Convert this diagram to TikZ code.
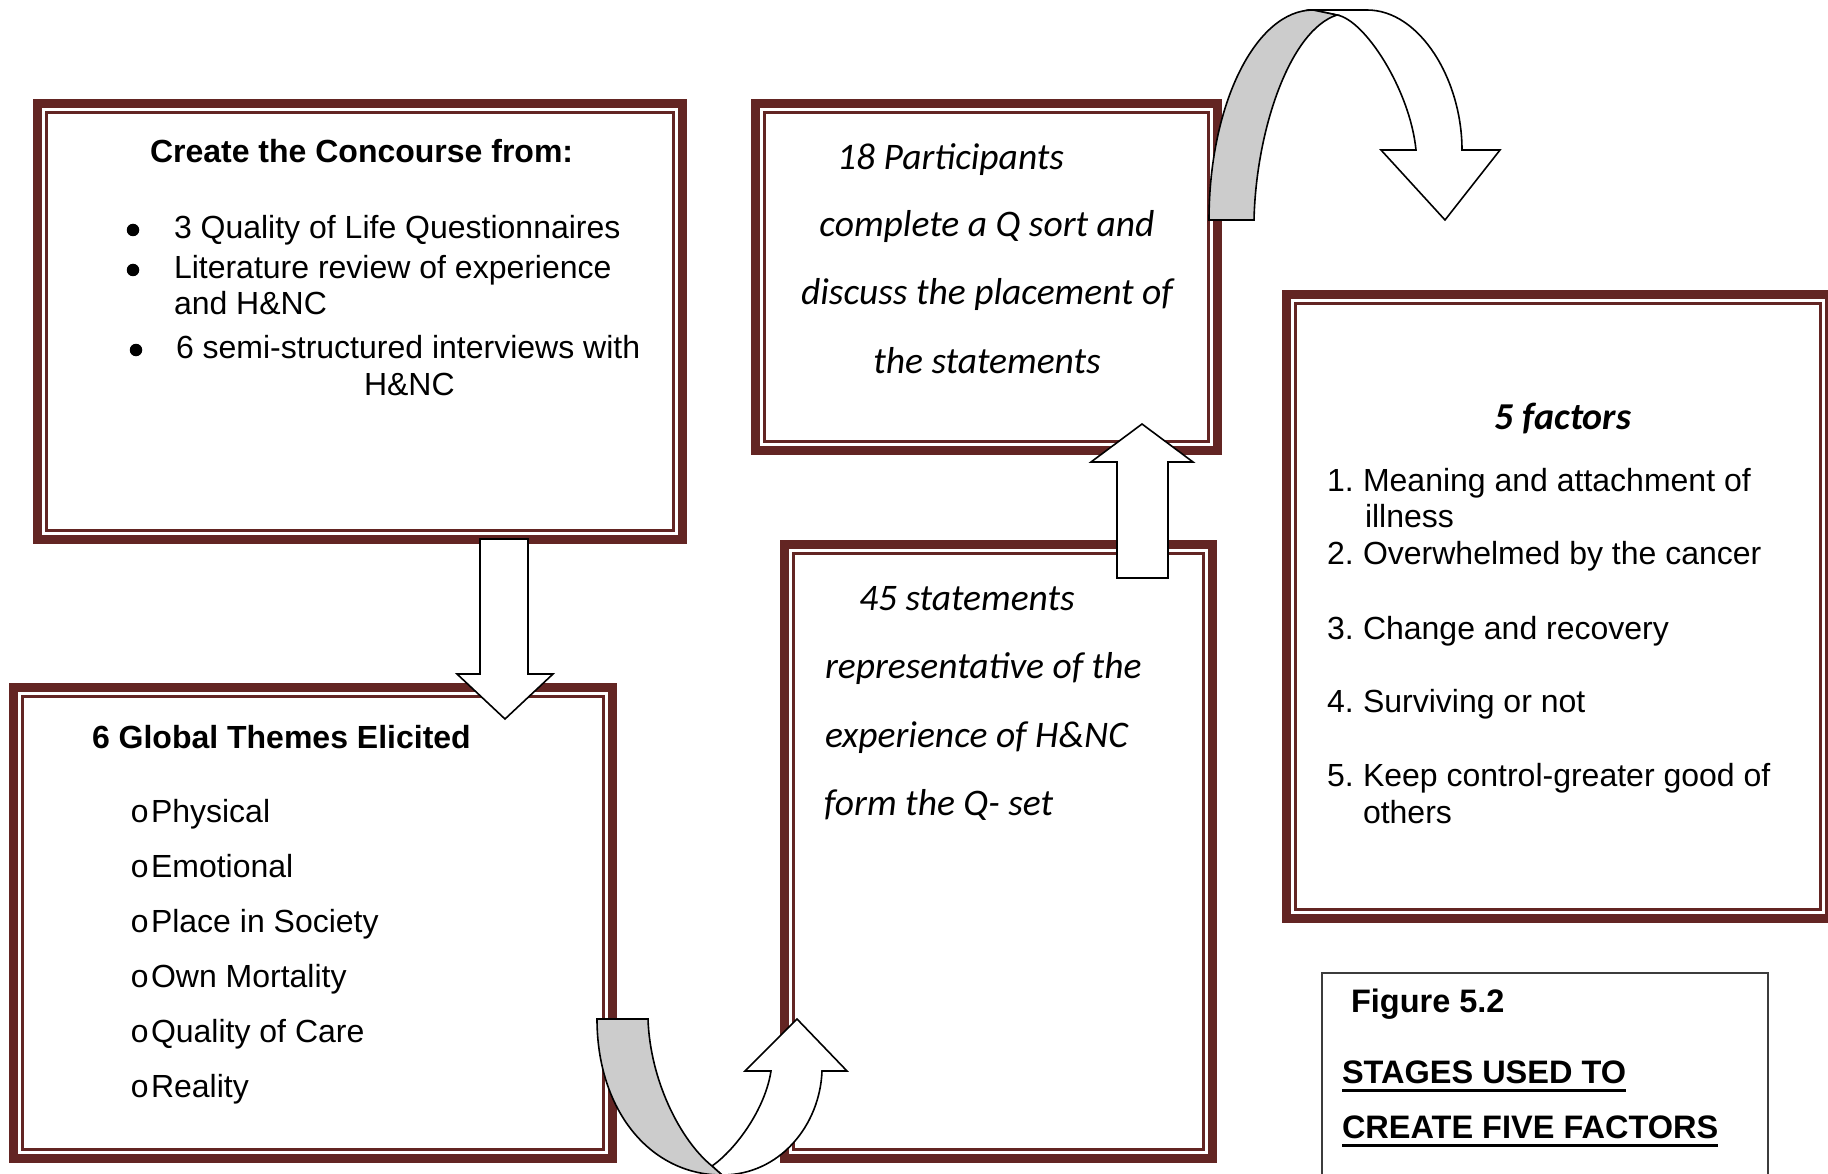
\documentclass[tikz,border=0pt]{standalone}
\usepackage{fontspec}
\setmainfont{Liberation Sans}
\newfontfamily\calfont{Carlito}
\newfontfamily\monofnt{Liberation Mono}
\definecolor{maroon}{RGB}{99,37,35}
\definecolor{bandgray}{RGB}{204,204,204}
\definecolor{figline}{RGB}{60,60,60}
\newcommand\qbox[5]{% name, outer x, outer y, node min width, node min height
  \node[qbox, minimum width=#4pt, minimum height=#5pt] (#1) at (#2+4.5,#3+4.5) {};
  \draw[maroon, line width=2.5pt] ([shift={(9,9)}]#1.north west) rectangle ([shift={(-9,-9)}]#1.south east);
}
\begin{document}
\begin{tikzpicture}[x=1pt,y=-1pt,
  qbox/.style={draw=maroon, fill=white, line width=9pt, inner sep=0pt, outer sep=0pt, anchor=north west},
  ar/.style={inner sep=0pt, outer sep=0pt, anchor=base west, font=\fontsize{32}{38}\selectfont},
  arb/.style={ar, font=\fontsize{32}{38}\selectfont\bfseries},
  bul/.style={circle, fill=black, inner sep=0pt, minimum size=12.5pt},
  circ/.style={inner sep=0pt, outer sep=0pt, anchor=base west, font=\fontsize{32}{38}\selectfont\monofnt},
  cal/.style={inner sep=0pt, outer sep=0pt, anchor=base west, font=\fontsize{37.5}{45}\selectfont\calfont\itshape},
  calc/.style={cal, anchor=base},
  figt/.style={inner sep=0pt, outer sep=0pt, anchor=base west, font=\fontsize{32.5}{38}\selectfont\bfseries},
  blockarrow/.style={draw=black, fill=white, line width=1.6pt, line join=miter},
  backband/.style={draw=black, fill=bandgray, line width=1.6pt, line join=miter},
]
\useasboundingbox (0,0) rectangle (1828,1174);
\clip (0,0) rectangle (1828,1174);

% ---- boxes ----
\qbox{concourse}{33}{99}{645}{436}
\qbox{participants}{751}{99}{462}{347}
\qbox{themes}{9}{683}{599}{471}
\qbox{statements}{780}{540}{428}{614}
\qbox{factors}{1282}{290}{543}{624}

% ---- box 1 text ----
\node[arb] (c0) at (150,163) {Create the Concourse from:};
\node[bul] (cb1) at (133,230) {};
\node[ar]  (c1) at (174,239) {3 Quality of Life Questionnaires};
\node[bul] (cb2) at (133,270) {};
\node[ar]  (c2) at (174,279) {Literature review of experience};
\node[ar]  (c2b) at (174,315) {and H\&NC};
\node[bul] (cb3) at (136,350) {};
\node[ar]  (c3) at (176,358) {6 semi-structured interviews with};
\node[ar]  (c3b) at (364,395) {H\&NC};

% ---- box 2 text ----
\node[cal]  (p1) at (837,170) {18 Participants};
\node[calc] (p2) at (987,237) {complete a Q sort and};
\node[calc] (p3) at (987,305) {discuss the placement of};
\node[calc] (p4) at (987,373) {the statements};

% ---- box 3 text ----
\node[arb] (t0) at (92,748) {6 Global Themes Elicited};
\foreach \i/\y/\t in {1/822/Physical, 2/877/Emotional, 3/932/Place in Society,
                      4/987/Own Mortality, 5/1042/Quality of Care, 6/1097/Reality}{
  \node[circ] (to\i) at (130,\y) {o};
  \node[ar]   (t\i) at (151,\y) {\t};
}

% ---- box 4 text ----
\node[cal] (s1) at (859,610) {45 statements};
\node[cal] (s2) at (825,678) {representative of the};
\node[cal] (s3) at (825,747) {experience of H\&NC};
\node[cal] (s4) at (824,815) {form the Q- set};

% ---- box 5 text ----
\node[calc, font=\fontsize{38}{45}\selectfont\calfont\bfseries\itshape] (f0) at (1563,429) {5 factors};
\node[ar] (fn1) at (1327,491) {1.};
\node[ar] (f1)  at (1363,491) {Meaning and attachment of};
\node[ar] (f1b) at (1365,527) {illness};
\node[ar] (fn2) at (1327,564) {2.};
\node[ar] (f2)  at (1363,564) {Overwhelmed by the cancer};
\node[ar] (fn3) at (1327,639) {3.};
\node[ar] (f3)  at (1363,639) {Change and recovery};
\node[ar] (fn4) at (1327,712) {4.};
\node[ar] (f4)  at (1363,712) {Surviving or not};
\node[ar] (fn5) at (1327,786) {5.};
\node[ar] (f5)  at (1363,786) {Keep control-greater good of};
\node[ar] (f5b) at (1363,823) {others};

% ---- figure caption box ----
\node[draw=figline, fill=white, line width=2pt, inner sep=0pt, anchor=north west,
      minimum width=446pt, minimum height=240pt] (figbox) at (1321,972) {};
\node[figt] (fg) at (1351,1012) {Figure 5.2};
\node[figt] (fs1) at (1342,1083) {STAGES USED TO};
\node[figt] (fs2) at (1342,1138) {CREATE FIVE FACTORS};
\draw[line width=3pt] ([shift={(0,7)}]fs1.base west) -- ([shift={(0,7)}]fs1.base east);
\draw[line width=3pt] ([shift={(0,7)}]fs2.base west) -- ([shift={(0,7)}]fs2.base east);

% ---- straight block arrows ----
\draw[blockarrow] (480,539) -- (528,539) -- (528,674) -- (553,674) -- (505,719)
   -- (457,674) -- (480,674) -- cycle;
\draw[blockarrow] (1117,578) -- (1168,578) -- (1168,462) -- (1193,462) -- (1142,424)
   -- (1091,462) -- (1117,462) -- cycle;

% ---- curved arrow at the top (box 2 to box 5) ----
\draw[blockarrow] (1313,10) -- (1367,10) .. controls (1420,10) and (1462,80) .. (1462,150)
   -- (1500,150) -- (1445,220) -- (1381,150) -- (1416,150)
   .. controls (1410,90) and (1365,20) .. (1337,15) -- cycle;
\draw[backband] (1209,220) .. controls (1209,104) and (1256,10) .. (1313,10) -- (1337,15)
   .. controls (1290,30) and (1256,130) .. (1254,220) -- cycle;

% ---- curved arrow at the bottom (box 3 to box 4) ----
\draw[blockarrow] (712,1166) -- (722,1175) .. controls (780,1175) and (820,1125) .. (822,1071)
   -- (847,1071) -- (797,1019) -- (745,1071) -- (771,1071)
   .. controls (765,1110) and (735,1150) .. (712,1166) -- cycle;
\draw[backband] (597,1019) -- (648,1019) .. controls (650,1080) and (680,1140) .. (712,1166)
   -- (722,1175) .. controls (650,1175) and (597,1110) .. (597,1019) -- cycle;
\end{tikzpicture}
\end{document}
